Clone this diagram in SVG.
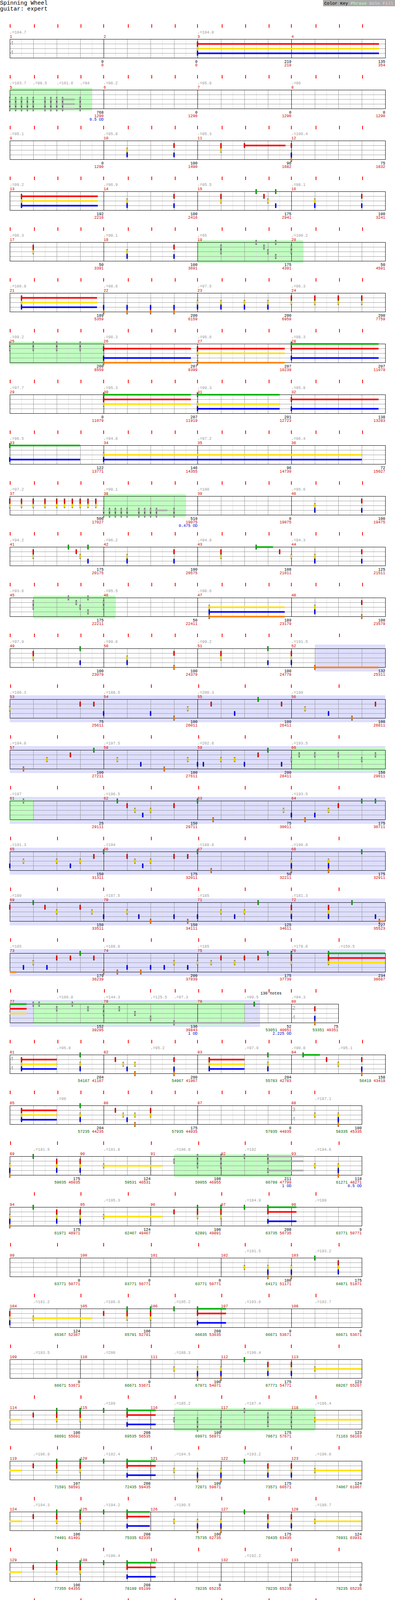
<svg xmlns="http://www.w3.org/2000/svg" xmlns:xlink="http://www.w3.org/1999/xlink" width="1010" height="4665" viewBox="0 0 1010 4665">
<style>
text{font-family:"Liberation Mono","DejaVu Sans Mono",monospace;font-size:10px}
.tp{fill:#999}.mn{fill:#c00}.s{text-anchor:end}.r{fill:#c00}.gn{fill:#060}.od{fill:#00c}
.big{font-size:14px;fill:#999}
.l8{stroke:#ddd;fill:none}.lg{stroke:#999;fill:none}.lk{stroke:#000;fill:none}
.tk{stroke:#f00;stroke-width:2;fill:none}
.ph{fill:#c0ffc0}.so{fill:#dedeff}
.uG{fill:#00b000}.uR{fill:#f00}.uY{fill:#ffe000}.uB{fill:#00f}.uO{fill:#ff8000}.uS{fill:#aaa}
</style>
<defs>
<g id="g44"><path class="l8" d="M55.5 0v48m60-48v48m60-48v48m60-48v48m60-48v48m60-48v48m60-48v48m60-48v48m60-48v48m60-48v48m60-48v48m60-48v48m60-48v48m60-48v48m60-48v48m60-48v48"/><path class="lg" d="M25 12.5h960M25 24.5h960M25 36.5h960M85.5 0v48m60-48v48m60-48v48m120-48v48m60-48v48m60-48v48m120-48v48m60-48v48m60-48v48m120-48v48m60-48v48m60-48v48"/><path class="lk" d="M265.5 0v48m240-48v48m240-48v48"/><rect class="lk" x="25.5" y="0.5" width="960" height="48"/></g>
<g id="g35"><path class="l8" d="M55.5 0v48m60-48v48m60-48v48m60-48v48m60-48v48m60-48v48m60-48v48m60-48v48m60-48v48m60-48v48m60-48v48m60-48v48m60-48v48m60-48v48m60-48v48"/><path class="lg" d="M25 12.5h900M25 24.5h900M25 36.5h900M85.5 0v48m60-48v48m120-48v48m60-48v48m120-48v48m60-48v48m120-48v48m60-48v48m120-48v48m60-48v48"/><path class="lk" d="M205.5 0v48m180-48v48m180-48v48m180-48v48"/><rect class="lk" x="25.5" y="0.5" width="900" height="48"/></g>
<g id="g19"><path class="l8" d="M55.5 0v48m60-48v48m60-48v48m60-48v48m60-48v48m60-48v48m60-48v48m60-48v48m60-48v48m60-48v48m60-48v48m60-48v48m60-48v48m60-48v48"/><path class="lg" d="M25 12.5h840M25 24.5h840M25 36.5h840M85.5 0v48m60-48v48m60-48v48m120-48v48m60-48v48m60-48v48m120-48v48m60-48v48m60-48v48m120-48v48"/><path class="lk" d="M265.5 0v48m240-48v48m240-48v48"/><rect class="lk" x="25.5" y="0.5" width="840" height="48"/></g>
<g id="g21"><path class="l8" d="M55.5 0v48m60-48v48m60-48v48m60-48v48m60-48v48m60-48v48m60-48v48m60-48v48m60-48v48m60-48v48m60-48v48m60-48v48m60-48v48m60-48v48m60-48v48"/><path class="lg" d="M25 12.5h900M25 24.5h900M25 36.5h900M85.5 0v48m60-48v48m60-48v48m120-48v48m60-48v48m60-48v48m120-48v48m60-48v48m60-48v48m120-48v48m60-48v48"/><path class="lk" d="M265.5 0v48m240-48v48m240-48v48"/><rect class="lk" x="25.5" y="0.5" width="900" height="48"/></g>
<g id="g34"><path class="l8" d="M55.5 0v48m60-48v48m60-48v48m60-48v48m60-48v48m60-48v48m60-48v48m60-48v48m60-48v48m60-48v48m60-48v48m60-48v48"/><path class="lg" d="M25 12.5h720M25 24.5h720M25 36.5h720M85.5 0v48m60-48v48m120-48v48m60-48v48m120-48v48m60-48v48m120-48v48m60-48v48"/><path class="lk" d="M205.5 0v48m180-48v48m180-48v48"/><rect class="lk" x="25.5" y="0.5" width="720" height="48"/></g>
<path id="S16" class="tk" d="M26-38v9M88-38v9M148-38v9M207-38v9M265-38v9M328-38v9M388-38v9M448-38v9M505-38v9M568-38v9M628-38v9M688-38v9M745-38v9M808-38v9M868-38v9M927-38v9"/>
<path id="F8" class="tk" d="M27-38v9M147-38v9M265-38v9M387-38v9M508-38v9M627-38v9M745-38v9M867-38v9"/>
<path id="F7" class="tk" d="M88-38v9M207-38v9M328-38v9M448-38v9M567-38v9M688-38v9M808-38v9"/>
<g id="G"><rect x="-1.5" y="-5.5" width="3" height="12"/><rect x="-1.5" y="-4.5" width="3" height="10" fill="#00b000"/></g>
<g id="R"><rect x="-1.5" y="6.5" width="3" height="12"/><rect x="-1.5" y="7.5" width="3" height="10" fill="#f00"/></g>
<g id="Y"><rect x="-1.5" y="18.5" width="3" height="12"/><rect x="-1.5" y="19.5" width="3" height="10" fill="#ffe000"/></g>
<g id="B"><rect x="-1.5" y="30.5" width="3" height="12"/><rect x="-1.5" y="31.5" width="3" height="10" fill="#00f"/></g>
<g id="O"><rect x="-1.5" y="42.5" width="3" height="12"/><rect x="-1.5" y="43.5" width="3" height="10" fill="#ff8000"/></g>
<g id="sG"><rect x="-1.5" y="-5.5" width="3" height="12"/><rect x="-1.5" y="-4.5" width="3" height="10" fill="#aaa"/></g>
<g id="sR"><rect x="-1.5" y="6.5" width="3" height="12"/><rect x="-1.5" y="7.5" width="3" height="10" fill="#aaa"/></g>
<g id="sY"><rect x="-1.5" y="18.5" width="3" height="12"/><rect x="-1.5" y="19.5" width="3" height="10" fill="#aaa"/></g>
<g id="sB"><rect x="-1.5" y="30.5" width="3" height="12"/><rect x="-1.5" y="31.5" width="3" height="10" fill="#aaa"/></g>
<g id="sO"><rect x="-1.5" y="42.5" width="3" height="12"/><rect x="-1.5" y="43.5" width="3" height="10" fill="#aaa"/></g>
<g id="RYB"><use href="#R"/><use href="#Y"/><use href="#B"/></g>
<g id="GRY"><use href="#G"/><use href="#R"/><use href="#Y"/></g>
<g id="GRB"><use href="#G"/><use href="#R"/><use href="#B"/></g>
<g id="YBO"><use href="#Y"/><use href="#B"/><use href="#O"/></g>
<g id="GYB"><use href="#G"/><use href="#Y"/><use href="#B"/></g>
<g id="RBO"><use href="#R"/><use href="#B"/><use href="#O"/></g>
<g id="RYO"><use href="#R"/><use href="#Y"/><use href="#O"/></g>
<g id="RB"><use href="#R"/><use href="#B"/></g>
<g id="YB"><use href="#Y"/><use href="#B"/></g>
<g id="RY"><use href="#R"/><use href="#Y"/></g>
<g id="GB"><use href="#G"/><use href="#B"/></g>
<g id="BO"><use href="#B"/><use href="#O"/></g>
<g id="RO"><use href="#R"/><use href="#O"/></g>
<g id="YO"><use href="#Y"/><use href="#O"/></g>
<g id="sYBO"><use href="#sY"/><use href="#sB"/><use href="#sO"/></g>
<g id="sGR"><use href="#sG"/><use href="#sR"/></g>
<g id="sRY"><use href="#sR"/><use href="#sY"/></g>
<g id="sGB"><use href="#sG"/><use href="#sB"/></g>
<g id="sBO"><use href="#sB"/><use href="#sO"/></g>
<g id="sGRY"><use href="#sG"/><use href="#sR"/><use href="#sY"/></g>
<g id="sGRB"><use href="#sG"/><use href="#sR"/><use href="#sB"/></g>
<g id="sRYB"><use href="#sR"/><use href="#sY"/><use href="#sB"/></g>
</defs>
<rect width="1010" height="4665" fill="#fff"/>
<g id="header">
<text x="0" y="12" style="font-size:14.5px">Spinning Wheel</text>
<text x="0" y="27" style="font-size:14.5px">guitar: expert</text>
<rect x="826" y="0" width="184" height="16" fill="#aaa"/>
<text x="829" y="12" style="font-size:11.3px">Color Key <tspan fill="#c0ffc0">Phrase</tspan> <tspan fill="#ddf">Solo</tspan> <tspan fill="#fcc">Fill</tspan></text>
</g>
<g id="row-1" transform="translate(0,100)">
<use href="#g44"/><use href="#S16"/>
<text class="tp" x="25" y="-14">♩=104.7</text><text class="tp" x="505" y="-14">♩=104.8</text>
<text class="mn" x="25" y="-3">1</text><text class="mn" x="265" y="-3">2</text><text class="mn" x="505" y="-3">3</text><text class="mn" x="745" y="-3">4</text>
<text class="big" x="26" y="15">4</text><text class="big" x="26" y="39">4</text>
<rect class="uR" x="505" y="10.5" width="464" height="4"/><rect class="uY" x="505" y="22.5" width="464" height="4"/><rect class="uB" x="505" y="34.5" width="464" height="4"/>
<use href="#RYB" x="505"/>
<text class="s" x="265" y="61">0<tspan class="r" x="265" dy="9">0</tspan></text>
<text class="s" x="505" y="61">0<tspan class="r" x="505" dy="9">0</tspan></text>
<text class="s" x="745" y="61">219<tspan class="r" x="745" dy="9">219</tspan></text>
<text class="s" x="985" y="61">135<tspan class="r" x="985" dy="9">354</tspan></text>
</g>
<g id="row-5" transform="translate(0,230)">
<rect class="ph" x="25" y="-5" width="211" height="58"/>
<use href="#g44"/><use href="#S16"/>
<text class="tp" x="25" y="-14">♩=103.7</text><text class="tp" x="84" y="-14">♩=98.5</text><text class="tp" x="145" y="-14">♩=101.8</text><text class="tp" x="205" y="-14">♩=94</text><text class="tp" x="265" y="-14">♩=96.2</text><text class="tp" x="505" y="-14">♩=95.8</text><text class="tp" x="745" y="-14">♩=96</text>
<text class="mn" x="25" y="-3">5</text><text class="mn" x="265" y="-3">6</text><text class="mn" x="505" y="-3">7</text><text class="mn" x="745" y="-3">8</text>
<rect class="uS" x="160" y="22.5" width="31" height="4"/><rect class="uS" x="160" y="34.5" width="31" height="4"/><rect class="uS" x="160" y="46.5" width="31" height="4"/>
<use href="#sYBO" x="25"/><use href="#sYBO" x="40"/><use href="#sYBO" x="55"/><use href="#sYBO" x="70"/><use href="#sYBO" x="85"/><use href="#sYBO" x="115"/><use href="#sYBO" x="130"/><use href="#sYBO" x="145"/><use href="#sYBO" x="160"/><use href="#sYBO" x="205"/>
<text class="s" x="265" y="61">768<tspan class="r" x="265" dy="9">1290</tspan><tspan class="od" x="265" dy="9">0.5 OD</tspan></text>
<text class="s" x="505" y="61">0<tspan class="r" x="505" dy="9">1290</tspan></text>
<text class="s" x="745" y="61">0<tspan class="r" x="745" dy="9">1290</tspan></text>
<text class="s" x="985" y="61">0<tspan class="r" x="985" dy="9">1290</tspan></text>
</g>
<g id="row-9" transform="translate(0,360)">
<use href="#g44"/><use href="#S16"/>
<text class="tp" x="25" y="-14">♩=95.1</text><text class="tp" x="265" y="-14">♩=95.8</text><text class="tp" x="505" y="-14">♩=95.3</text><text class="tp" x="745" y="-14">♩=100.4</text>
<text class="mn" x="25" y="-3">9</text><text class="mn" x="265" y="-3">10</text><text class="mn" x="505" y="-3">11</text><text class="mn" x="745" y="-3">12</text>
<rect class="uR" x="625" y="10.5" width="105" height="4"/>
<use href="#YB" x="325"/><use href="#RB" x="445"/><use href="#RY" x="565"/><use href="#R" x="625"/><use href="#RBO" x="745"/>
<text class="s" x="265" y="61">0<tspan class="r" x="265" dy="9">1290</tspan></text>
<text class="s" x="505" y="61">100<tspan class="r" x="505" dy="9">1490</tspan></text>
<text class="s" x="745" y="61">96<tspan class="r" x="745" dy="9">1682</tspan></text>
<text class="s" x="985" y="61">75<tspan class="r" x="985" dy="9">1832</tspan></text>
</g>
<g id="row-13" transform="translate(0,490)">
<use href="#g44"/><use href="#S16"/>
<text class="tp" x="25" y="-14">♩=99.2</text><text class="tp" x="265" y="-14">♩=96.9</text><text class="tp" x="505" y="-14">♩=95.5</text><text class="tp" x="745" y="-14">♩=98.1</text>
<text class="mn" x="25" y="-3">13</text><text class="mn" x="265" y="-3">14</text><text class="mn" x="505" y="-3">15</text><text class="mn" x="745" y="-3">16</text>
<rect class="uR" x="55" y="10.5" width="195" height="4"/><rect class="uY" x="55" y="22.5" width="195" height="4"/><rect class="uB" x="55" y="34.5" width="195" height="4"/>
<use href="#RYB" x="55"/><use href="#YB" x="325"/><use href="#RB" x="445"/><use href="#RY" x="565"/><use href="#G" x="655"/><use href="#R" x="675"/><use href="#Y" x="685"/><use href="#GB" x="705"/><use href="#YB" x="805"/><use href="#RB" x="925"/>
<text class="s" x="265" y="61">192<tspan class="r" x="265" dy="9">2216</tspan></text>
<text class="s" x="505" y="61">100<tspan class="r" x="505" dy="9">2416</tspan></text>
<text class="s" x="745" y="61">175<tspan class="r" x="745" dy="9">2941</tspan></text>
<text class="s" x="985" y="61">100<tspan class="r" x="985" dy="9">3241</tspan></text>
</g>
<g id="row-17" transform="translate(0,620)">
<rect class="ph" x="505" y="-5" width="270" height="58"/>
<use href="#g44"/><use href="#S16"/>
<text class="tp" x="25" y="-14">♩=96.3</text><text class="tp" x="265" y="-14">♩=98.1</text><text class="tp" x="505" y="-14">♩=95</text><text class="tp" x="745" y="-14">♩=100.2</text>
<text class="mn" x="25" y="-3">17</text><text class="mn" x="265" y="-3">18</text><text class="mn" x="505" y="-3">19</text><text class="mn" x="745" y="-3">20</text>
<use href="#RY" x="85"/><use href="#YB" x="325"/><use href="#RB" x="445"/><use href="#sRY" x="565"/><use href="#sG" x="655"/><use href="#sR" x="675"/><use href="#sY" x="685"/><use href="#sGB" x="705"/><use href="#sRY" x="745"/>
<text class="s" x="265" y="61">50<tspan class="r" x="265" dy="9">3391</tspan></text>
<text class="s" x="505" y="61">100<tspan class="r" x="505" dy="9">3691</tspan></text>
<text class="s" x="745" y="61">175<tspan class="r" x="745" dy="9">4391</tspan></text>
<text class="s" x="985" y="61">50<tspan class="r" x="985" dy="9">4591</tspan></text>
</g>
<g id="row-21" transform="translate(0,750)">
<use href="#g44"/><use href="#S16"/>
<text class="tp" x="25" y="-14">♩=100.8</text><text class="tp" x="265" y="-14">♩=98.6</text><text class="tp" x="505" y="-14">♩=97.5</text><text class="tp" x="745" y="-14">♩=96.3</text>
<text class="mn" x="25" y="-3">21</text><text class="mn" x="265" y="-3">22</text><text class="mn" x="505" y="-3">23</text><text class="mn" x="745" y="-3">24</text>
<rect class="uR" x="55" y="10.5" width="193" height="4"/><rect class="uY" x="55" y="22.5" width="193" height="4"/><rect class="uB" x="55" y="34.5" width="193" height="4"/>
<use href="#RYB" x="55"/><use href="#BO" x="265"/><use href="#BO" x="325"/><use href="#BO" x="385"/><use href="#BO" x="445"/><use href="#YB" x="505"/><use href="#YB" x="565"/><use href="#YB" x="625"/><use href="#YB" x="685"/><use href="#RY" x="745"/><use href="#RY" x="805"/><use href="#RY" x="865"/><use href="#RY" x="925"/>
<text class="s" x="265" y="61">189<tspan class="r" x="265" dy="9">5359</tspan></text>
<text class="s" x="505" y="61">200<tspan class="r" x="505" dy="9">6159</tspan></text>
<text class="s" x="745" y="61">200<tspan class="r" x="745" dy="9">6959</tspan></text>
<text class="s" x="985" y="61">200<tspan class="r" x="985" dy="9">7759</tspan></text>
</g>
<g id="row-25" transform="translate(0,880)">
<rect class="ph" x="25" y="-5" width="240" height="58"/>
<use href="#g44"/><use href="#S16"/>
<text class="tp" x="25" y="-14">♩=99.2</text><text class="tp" x="265" y="-14">♩=98.3</text><text class="tp" x="505" y="-14">♩=98.6</text><text class="tp" x="745" y="-14">♩=98.3</text>
<text class="mn" x="25" y="-3">25</text><text class="mn" x="265" y="-3">26</text><text class="mn" x="505" y="-3">27</text><text class="mn" x="745" y="-3">28</text>
<use href="#sGR" x="25"/><use href="#sGR" x="85"/><use href="#sGR" x="145"/><use href="#sGR" x="205"/>
<rect class="uR" x="265" y="10.5" width="223" height="4"/><rect class="uB" x="265" y="34.5" width="223" height="4"/><rect class="uO" x="265" y="46.5" width="223" height="4"/>
<rect class="uR" x="505" y="10.5" width="223" height="4"/><rect class="uY" x="505" y="22.5" width="223" height="4"/><rect class="uO" x="505" y="46.5" width="223" height="4"/>
<rect class="uG" x="745" y="-1.5" width="223" height="4"/><rect class="uR" x="745" y="10.5" width="223" height="4"/><rect class="uB" x="745" y="34.5" width="223" height="4"/>
<use href="#RBO" x="265"/><use href="#RYO" x="505"/><use href="#GRB" x="745"/>
<text class="s" x="265" y="61">200<tspan class="r" x="265" dy="9">8559</tspan></text>
<text class="s" x="505" y="61">207<tspan class="r" x="505" dy="9">9399</tspan></text>
<text class="s" x="745" y="61">207<tspan class="r" x="745" dy="9">10239</tspan></text>
<text class="s" x="985" y="61">207<tspan class="r" x="985" dy="9">11079</tspan></text>
</g>
<g id="row-29" transform="translate(0,1010)">
<use href="#g44"/><use href="#S16"/>
<text class="tp" x="25" y="-14">♩=97.7</text><text class="tp" x="265" y="-14">♩=95.3</text><text class="tp" x="505" y="-14">♩=99.3</text><text class="tp" x="745" y="-14">♩=95.8</text>
<text class="mn" x="25" y="-3">29</text><text class="mn" x="265" y="-3">30</text><text class="mn" x="505" y="-3">31</text><text class="mn" x="745" y="-3">32</text>
<rect class="uG" x="265" y="-1.5" width="223" height="4"/><rect class="uR" x="265" y="10.5" width="223" height="4"/><rect class="uY" x="265" y="22.5" width="223" height="4"/>
<rect class="uG" x="505" y="-1.5" width="210" height="4"/><rect class="uY" x="505" y="22.5" width="210" height="4"/><rect class="uB" x="505" y="34.5" width="210" height="4"/>
<rect class="uR" x="745" y="10.5" width="223" height="4"/><rect class="uB" x="745" y="34.5" width="223" height="4"/>
<use href="#GRY" x="265"/><use href="#GYB" x="505"/><use href="#RB" x="745"/>
<text class="s" x="265" y="61">0<tspan class="r" x="265" dy="9">11079</tspan></text>
<text class="s" x="505" y="61">207<tspan class="r" x="505" dy="9">11919</tspan></text>
<text class="s" x="745" y="61">201<tspan class="r" x="745" dy="9">12723</tspan></text>
<text class="s" x="985" y="61">138<tspan class="r" x="985" dy="9">13283</tspan></text>
</g>
<g id="row-33" transform="translate(0,1140)">
<use href="#g44"/><use href="#S16"/>
<text class="tp" x="25" y="-14">♩=96.5</text><text class="tp" x="265" y="-14">♩=94.8</text><text class="tp" x="505" y="-14">♩=97.2</text><text class="tp" x="745" y="-14">♩=96.4</text>
<text class="mn" x="25" y="-3">33</text><text class="mn" x="265" y="-3">34</text><text class="mn" x="505" y="-3">35</text><text class="mn" x="745" y="-3">36</text>
<rect class="uG" x="25" y="-1.5" width="180" height="4"/><rect class="uB" x="25" y="34.5" width="180" height="4"/>
<rect class="uY" x="265" y="22.5" width="660" height="4"/><rect class="uB" x="265" y="34.5" width="660" height="4"/>
<use href="#GB" x="25"/><use href="#YB" x="265"/>
<text class="s" x="265" y="61">122<tspan class="r" x="265" dy="9">13771</tspan></text>
<text class="s" x="505" y="61">146<tspan class="r" x="505" dy="9">14355</tspan></text>
<text class="s" x="745" y="61">96<tspan class="r" x="745" dy="9">14739</tspan></text>
<text class="s" x="985" y="61">72<tspan class="r" x="985" dy="9">15027</tspan></text>
</g>
<g id="row-37" transform="translate(0,1270)">
<rect class="ph" x="265" y="-5" width="210" height="58"/>
<use href="#g44"/><use href="#S16"/>
<text class="tp" x="25" y="-14">♩=97.2</text><text class="tp" x="265" y="-14">♩=98.1</text><text class="tp" x="505" y="-14">♩=100</text><text class="tp" x="745" y="-14">♩=95.6</text>
<text class="mn" x="25" y="-3">37</text><text class="mn" x="265" y="-3">38</text><text class="mn" x="505" y="-3">39</text><text class="mn" x="745" y="-3">40</text>
<use href="#RY" x="25"/><use href="#RY" x="55"/><use href="#RY" x="85"/><use href="#RY" x="115"/><use href="#RY" x="145"/><use href="#RY" x="165"/><use href="#RY" x="185"/><use href="#RY" x="205"/><use href="#RY" x="225"/><use href="#RY" x="245"/>
<rect class="uS" x="400" y="34.5" width="28" height="4"/><rect class="uS" x="400" y="46.5" width="28" height="4"/>
<use href="#sBO" x="265"/><use href="#sBO" x="280"/><use href="#sBO" x="295"/><use href="#sBO" x="310"/><use href="#sBO" x="325"/><use href="#sBO" x="355"/><use href="#sBO" x="370"/><use href="#sBO" x="385"/><use href="#sBO" x="400"/><use href="#sBO" x="445"/>
<use href="#YB" x="805"/><use href="#RB" x="925"/>
<text class="s" x="265" y="61">500<tspan class="r" x="265" dy="9">17027</tspan></text>
<text class="s" x="505" y="61">510<tspan class="r" x="505" dy="9">19075</tspan><tspan class="od" x="505" dy="9">0.475 OD</tspan></text>
<text class="s" x="745" y="61">0<tspan class="r" x="745" dy="9">19075</tspan></text>
<text class="s" x="985" y="61">100<tspan class="r" x="985" dy="9">19475</tspan></text>
</g>
<g id="row-41" transform="translate(0,1400)">
<use href="#g44"/><use href="#S16"/>
<text class="tp" x="25" y="-14">♩=94.2</text><text class="tp" x="265" y="-14">♩=96.2</text><text class="tp" x="505" y="-14">♩=94.9</text><text class="tp" x="745" y="-14">♩=94.3</text>
<text class="mn" x="25" y="-3">41</text><text class="mn" x="265" y="-3">42</text><text class="mn" x="505" y="-3">43</text><text class="mn" x="745" y="-3">44</text>
<rect class="uG" x="655" y="-1.5" width="43" height="4"/>
<use href="#RY" x="85"/><use href="#G" x="175"/><use href="#R" x="195"/><use href="#Y" x="205"/><use href="#GB" x="225"/><use href="#YB" x="325"/><use href="#RB" x="445"/><use href="#RY" x="565"/><use href="#G" x="655"/><use href="#R" x="715"/><use href="#Y" x="745"/><use href="#YB" x="805"/><use href="#RB" x="925"/>
<text class="s" x="265" y="61">175<tspan class="r" x="265" dy="9">20175</tspan></text>
<text class="s" x="505" y="61">100<tspan class="r" x="505" dy="9">20575</tspan></text>
<text class="s" x="745" y="61">108<tspan class="r" x="745" dy="9">21011</tspan></text>
<text class="s" x="985" y="61">125<tspan class="r" x="985" dy="9">21511</tspan></text>
</g>
<g id="row-45" transform="translate(0,1530)">
<rect class="ph" x="85" y="-5" width="210" height="58"/>
<use href="#g44"/><use href="#S16"/>
<text class="tp" x="25" y="-14">♩=93.6</text><text class="tp" x="265" y="-14">♩=95.5</text><text class="tp" x="505" y="-14">♩=98.6</text>
<text class="mn" x="25" y="-3">45</text><text class="mn" x="265" y="-3">46</text><text class="mn" x="505" y="-3">47</text><text class="mn" x="745" y="-3">48</text>
<use href="#sRY" x="85"/><use href="#sG" x="175"/><use href="#sR" x="195"/><use href="#sY" x="205"/><use href="#sGB" x="225"/><use href="#sRY" x="265"/>
<rect class="uY" x="535" y="22.5" width="193" height="4"/><rect class="uB" x="535" y="34.5" width="193" height="4"/><rect class="uO" x="535" y="46.5" width="193" height="4"/>
<use href="#YBO" x="535"/><use href="#YB" x="805"/><use href="#RO" x="925"/>
<text class="s" x="265" y="61">175<tspan class="r" x="265" dy="9">22211</tspan></text>
<text class="s" x="505" y="61">50<tspan class="r" x="505" dy="9">22411</tspan></text>
<text class="s" x="745" y="61">189<tspan class="r" x="745" dy="9">23179</tspan></text>
<text class="s" x="985" y="61">100<tspan class="r" x="985" dy="9">23579</tspan></text>
</g>
<g id="row-49" transform="translate(0,1660)">
<rect class="so" x="805" y="-10" width="180" height="69"/>
<use href="#g44"/>
<path class="tk" d="M26-38v9M88-38v9M148-38v9M207-38v9M265-38v9M328-38v9M388-38v9M448-38v9M505-38v9M568-38v9M628-38v9M688-38v9M745-38v9M868-38v9"/>
<text class="tp" x="25" y="-14">♩=97.9</text><text class="tp" x="265" y="-14">♩=99.6</text><text class="tp" x="505" y="-14">♩=99.2</text><text class="tp" x="745" y="-14">♩=191.5</text>
<text class="mn" x="25" y="-3">49</text><text class="mn" x="265" y="-3">50</text><text class="mn" x="505" y="-3">51</text><text class="mn" x="745" y="-3">52</text>
<rect class="uO" x="805" y="46.5" width="163" height="4"/>
<use href="#RY" x="85"/><use href="#GB" x="205"/><use href="#YB" x="325"/><use href="#RO" x="445"/><use href="#RY" x="565"/><use href="#GB" x="685"/><use href="#RYB" x="745"/><use href="#O" x="805"/>
<text class="s" x="265" y="61">100<tspan class="r" x="265" dy="9">23979</tspan></text>
<text class="s" x="505" y="61">100<tspan class="r" x="505" dy="9">24379</tspan></text>
<text class="s" x="745" y="61">100<tspan class="r" x="745" dy="9">24779</tspan></text>
<text class="s" x="985" y="61">132<tspan class="r" x="985" dy="9">25311</tspan></text>
</g>
<g id="row-53" transform="translate(0,1790)">
<rect class="so" x="25" y="-10" width="960" height="69"/>
<use href="#g44"/><use href="#F8"/>
<text class="tp" x="25" y="-14">♩=196.3</text><text class="tp" x="265" y="-14">♩=188.5</text><text class="tp" x="505" y="-14">♩=200.3</text><text class="tp" x="745" y="-14">♩=199</text>
<text class="mn" x="25" y="-3">53</text><text class="mn" x="265" y="-3">54</text><text class="mn" x="505" y="-3">55</text><text class="mn" x="745" y="-3">56</text>
<use href="#Y" x="25"/><use href="#R" x="205"/><use href="#R" x="240"/><use href="#B" x="265"/><use href="#B" x="385"/><use href="#O" x="445"/><use href="#Y" x="480"/><use href="#R" x="540"/><use href="#B" x="600"/><use href="#G" x="660"/><use href="#R" x="720"/><use href="#Y" x="780"/><use href="#B" x="840"/><use href="#O" x="900"/><use href="#R" x="960"/>
<text class="s" x="265" y="61">75<tspan class="r" x="265" dy="9">25611</tspan></text>
<text class="s" x="505" y="61">100<tspan class="r" x="505" dy="9">26011</tspan></text>
<text class="s" x="745" y="61">100<tspan class="r" x="745" dy="9">26411</tspan></text>
<text class="s" x="985" y="61">100<tspan class="r" x="985" dy="9">26811</tspan></text>
</g>
<g id="row-57" transform="translate(0,1920)">
<rect class="so" x="25" y="-10" width="960" height="69"/>
<rect class="ph" x="745" y="-5" width="240" height="58"/>
<use href="#g44"/><use href="#F8"/>
<text class="tp" x="25" y="-14">♩=194.8</text><text class="tp" x="265" y="-14">♩=197.5</text><text class="tp" x="505" y="-14">♩=202.8</text><text class="tp" x="745" y="-14">♩=193.5</text>
<text class="mn" x="25" y="-3">57</text><text class="mn" x="265" y="-3">58</text><text class="mn" x="505" y="-3">59</text><text class="mn" x="745" y="-3">60</text>
<use href="#O" x="60"/><use href="#Y" x="120"/><use href="#R" x="180"/><use href="#G" x="240"/><use href="#Y" x="300"/><use href="#B" x="360"/><use href="#O" x="420"/><use href="#Y" x="480"/><use href="#B" x="505"/><use href="#B" x="520"/><use href="#Y" x="565"/><use href="#Y" x="600"/><use href="#B" x="625"/><use href="#R" x="660"/><use href="#G" x="685"/><use href="#B" x="720"/>
<use href="#sY" x="745"/><use href="#sR" x="765"/><use href="#sR" x="805"/><use href="#sR" x="865"/><use href="#sY" x="925"/><use href="#sR" x="960"/>
<text class="s" x="265" y="61">100<tspan class="r" x="265" dy="9">27211</tspan></text>
<text class="s" x="505" y="61">100<tspan class="r" x="505" dy="9">27611</tspan></text>
<text class="s" x="745" y="61">200<tspan class="r" x="745" dy="9">28411</tspan></text>
<text class="s" x="985" y="61">150<tspan class="r" x="985" dy="9">29011</tspan></text>
</g>
<g id="row-61" transform="translate(0,2050)">
<rect class="so" x="25" y="-10" width="960" height="69"/>
<rect class="ph" x="25" y="-5" width="60" height="58"/>
<use href="#g44"/><use href="#F8"/>
<text class="tp" x="25" y="-14">♩=197</text><text class="tp" x="265" y="-14">♩=196.5</text><text class="tp" x="745" y="-14">♩=193.5</text>
<text class="mn" x="25" y="-3">61</text><text class="mn" x="265" y="-3">62</text><text class="mn" x="505" y="-3">63</text><text class="mn" x="745" y="-3">64</text>
<use href="#sG" x="60"/><use href="#G" x="300"/><use href="#R" x="325"/><use href="#Y" x="345"/><use href="#B" x="365"/><use href="#Y" x="385"/><use href="#R" x="445"/><use href="#G" x="505"/><use href="#O" x="545"/><use href="#Y" x="725"/><use href="#B" x="745"/><use href="#O" x="780"/><use href="#B" x="805"/><use href="#Y" x="840"/><use href="#R" x="865"/><use href="#G" x="925"/><use href="#G" x="960"/>
<text class="s" x="265" y="61">25<tspan class="r" x="265" dy="9">29111</tspan></text>
<text class="s" x="505" y="61">150<tspan class="r" x="505" dy="9">29711</tspan></text>
<text class="s" x="745" y="61">75<tspan class="r" x="745" dy="9">30011</tspan></text>
<text class="s" x="985" y="61">175<tspan class="r" x="985" dy="9">30711</tspan></text>
</g>
<g id="row-65" transform="translate(0,2180)">
<rect class="so" x="25" y="-10" width="960" height="69"/>
<use href="#g44"/><use href="#F8"/>
<text class="tp" x="25" y="-14">♩=191.3</text><text class="tp" x="265" y="-14">♩=194</text><text class="tp" x="505" y="-14">♩=188.8</text><text class="tp" x="745" y="-14">♩=190.8</text>
<text class="mn" x="25" y="-3">65</text><text class="mn" x="265" y="-3">66</text><text class="mn" x="505" y="-3">67</text><text class="mn" x="745" y="-3">68</text>
<use href="#B" x="25"/><use href="#Y" x="60"/><use href="#Y" x="145"/><use href="#B" x="180"/><use href="#Y" x="205"/><use href="#R" x="240"/><use href="#G" x="265"/><use href="#R" x="325"/><use href="#Y" x="345"/><use href="#B" x="365"/><use href="#Y" x="385"/><use href="#R" x="445"/><use href="#R" x="480"/><use href="#G" x="505"/><use href="#O" x="540"/><use href="#YBO" x="745"/><use href="#YBO" x="840"/><use href="#G" x="925"/>
<text class="s" x="265" y="61">150<tspan class="r" x="265" dy="9">31311</tspan></text>
<text class="s" x="505" y="61">175<tspan class="r" x="505" dy="9">32011</tspan></text>
<text class="s" x="745" y="61">50<tspan class="r" x="745" dy="9">32211</tspan></text>
<text class="s" x="985" y="61">175<tspan class="r" x="985" dy="9">32911</tspan></text>
</g>
<g id="row-69" transform="translate(0,2310)">
<rect class="so" x="25" y="-10" width="960" height="69"/>
<use href="#g44"/><use href="#F8"/>
<text class="tp" x="25" y="-14">♩=189</text><text class="tp" x="265" y="-14">♩=187.5</text><text class="tp" x="505" y="-14">♩=185</text><text class="tp" x="745" y="-14">♩=181.3</text>
<text class="mn" x="25" y="-3">69</text><text class="mn" x="265" y="-3">70</text><text class="mn" x="505" y="-3">71</text><text class="mn" x="745" y="-3">72</text>
<rect class="uO" x="970" y="46.5" width="15" height="4"/>
<use href="#R" x="25"/><use href="#G" x="85"/><use href="#R" x="115"/><use href="#Y" x="145"/><use href="#R" x="205"/><use href="#Y" x="235"/><use href="#B" x="265"/><use href="#Y" x="325"/><use href="#B" x="355"/><use href="#O" x="385"/><use href="#B" x="445"/><use href="#O" x="480"/><use href="#B" x="505"/><use href="#Y" x="565"/><use href="#B" x="600"/><use href="#Y" x="625"/><use href="#G" x="660"/><use href="#RYB" x="745"/><use href="#RYB" x="840"/><use href="#G" x="900"/><use href="#B" x="960"/><use href="#O" x="970"/>
<text class="s" x="265" y="61">150<tspan class="r" x="265" dy="9">33511</tspan></text>
<text class="s" x="505" y="61">150<tspan class="r" x="505" dy="9">34111</tspan></text>
<text class="s" x="745" y="61">125<tspan class="r" x="745" dy="9">34611</tspan></text>
<text class="s" x="985" y="61">227<tspan class="r" x="985" dy="9">35523</tspan></text>
</g>
<g id="row-73" transform="translate(0,2440)">
<rect class="so" x="25" y="-10" width="960" height="69"/>
<use href="#g44"/><use href="#F8"/>
<text class="tp" x="25" y="-14">♩=185</text><text class="tp" x="265" y="-14">♩=188.8</text><text class="tp" x="505" y="-14">♩=185</text><text class="tp" x="745" y="-14">♩=178.8</text><text class="tp" x="865" y="-14">♩=159.5</text>
<text class="mn" x="25" y="-3">73</text><text class="mn" x="265" y="-3">74</text><text class="mn" x="505" y="-3">75</text><text class="mn" x="745" y="-3">76</text>
<rect class="uO" x="25" y="46.5" width="17" height="4"/>
<rect class="uG" x="840" y="-1.5" width="145" height="4"/><rect class="uR" x="840" y="10.5" width="145" height="4"/><rect class="uY" x="840" y="22.5" width="145" height="4"/>
<use href="#B" x="60"/><use href="#Y" x="85"/><use href="#B" x="120"/><use href="#R" x="145"/><use href="#R" x="180"/><use href="#G" x="205"/><use href="#R" x="240"/><use href="#O" x="265"/><use href="#O" x="300"/><use href="#B" x="325"/><use href="#O" x="360"/><use href="#B" x="385"/><use href="#B" x="420"/><use href="#Y" x="445"/><use href="#B" x="480"/><use href="#Y" x="505"/><use href="#Y" x="540"/><use href="#R" x="565"/><use href="#Y" x="600"/><use href="#R" x="625"/><use href="#R" x="660"/><use href="#G" x="685"/><use href="#GRY" x="745"/><use href="#GRY" x="840"/>
<text class="s" x="265" y="61">179<tspan class="r" x="265" dy="9">36239</tspan></text>
<text class="s" x="505" y="61">200<tspan class="r" x="505" dy="9">37039</tspan></text>
<text class="s" x="745" y="61">175<tspan class="r" x="745" dy="9">37739</tspan></text>
<text class="s" x="985" y="61">234<tspan class="r" x="985" dy="9">38687</tspan></text>
</g>
<g id="row-77" transform="translate(0,2570)">
<rect class="so" x="25" y="-10" width="640" height="69"/>
<rect class="ph" x="85" y="-5" width="540" height="58"/>
<use href="#g19"/>
<path class="tk" d="M27-38v9M147-38v9M267-38v9M385-38v9M448-38v9M508-38v9M568-38v9M627-38v9M688-38v9M745-38v9M808-38v9"/>
<text x="666" y="-24">130 notes</text>
<text class="tp" x="145" y="-14">♩=160.8</text><text class="tp" x="265" y="-14">♩=144.3</text><text class="tp" x="385" y="-14">♩=125.5</text><text class="tp" x="445" y="-14">♩=97.3</text><text class="tp" x="625" y="-14">♩=99.5</text><text class="tp" x="745" y="-14">♩=94.3</text>
<text class="mn" x="25" y="-3">77</text><text class="mn" x="265" y="-3">78</text><text class="mn" x="505" y="-3">79</text><text class="mn" x="745" y="-3">80</text>
<text class="big" x="747" y="15">2</text><text class="big" x="747" y="39">4</text>
<rect class="uG" x="25" y="-1.5" width="43" height="4"/><rect class="uR" x="25" y="10.5" width="43" height="4"/><rect class="uY" x="25" y="22.5" width="43" height="4"/>
<rect class="uS" x="445" y="46.5" width="193" height="4"/>
<use href="#sG" x="85"/><use href="#sG" x="100"/><use href="#sR" x="145"/><use href="#sG" x="185"/><use href="#sR" x="225"/><use href="#sRY" x="265"/><use href="#sR" x="305"/><use href="#sY" x="345"/><use href="#sB" x="385"/><use href="#sO" x="445"/>
<use href="#G" x="650"/><use href="#RBO" x="805"/>
<text class="s" x="265" y="61">152<tspan class="r" x="265" dy="9">39295</tspan></text>
<text class="s" x="505" y="61">136<tspan class="r" x="505" dy="9">39843</tspan><tspan class="od" x="505" dy="9">1 OD</tspan></text>
<text class="s" x="745" y="61">52<tspan class="gn" x="745" dy="9">53051</tspan> <tspan class="r">40051</tspan><tspan class="od" x="745" dy="9">2.225 OD</tspan></text>
<text class="s" x="865" y="61">75<tspan class="gn" x="865" dy="9">53351</tspan> <tspan class="r">40351</tspan></text>
</g>
<g id="row-81" transform="translate(0,2700)">
<use href="#g44"/><use href="#S16"/>
<text class="tp" x="145" y="-14">♩=95.8</text><text class="tp" x="385" y="-14">♩=95.2</text><text class="tp" x="625" y="-14">♩=97.9</text><text class="tp" x="745" y="-14">♩=90.8</text><text class="tp" x="865" y="-14">♩=95.1</text>
<text class="mn" x="25" y="-3">81</text><text class="mn" x="265" y="-3">82</text><text class="mn" x="505" y="-3">83</text><text class="mn" x="745" y="-3">84</text>
<text class="big" x="26" y="15">4</text><text class="big" x="26" y="39">4</text>
<rect class="uR" x="55" y="10.5" width="90" height="4"/><rect class="uY" x="55" y="22.5" width="90" height="4"/><rect class="uB" x="55" y="34.5" width="90" height="4"/>
<rect class="uR" x="535" y="10.5" width="90" height="4"/><rect class="uY" x="535" y="22.5" width="90" height="4"/><rect class="uB" x="535" y="34.5" width="90" height="4"/>
<rect class="uG" x="775" y="-1.5" width="43" height="4"/>
<use href="#RYB" x="55"/><use href="#GYB" x="205"/><use href="#R" x="295"/><use href="#Y" x="315"/><use href="#B" x="325"/><use href="#YO" x="345"/><use href="#RBO" x="445"/><use href="#RYB" x="535"/><use href="#GYB" x="685"/><use href="#G" x="775"/><use href="#R" x="835"/><use href="#Y" x="865"/><use href="#RBO" x="925"/>
<text class="s" x="265" y="61">204<tspan class="gn" x="265" dy="9">54167</tspan> <tspan class="r">41167</tspan></text>
<text class="s" x="505" y="61">200<tspan class="gn" x="505" dy="9">54967</tspan> <tspan class="r">41967</tspan></text>
<text class="s" x="745" y="61">204<tspan class="gn" x="745" dy="9">55783</tspan> <tspan class="r">42783</tspan></text>
<text class="s" x="985" y="61">158<tspan class="gn" x="985" dy="9">56419</tspan> <tspan class="r">43419</tspan></text>
</g>
<g id="row-85" transform="translate(0,2830)">
<use href="#g21"/>
<path class="tk" d="M26-38v9M88-38v9M148-38v9M207-38v9M265-38v9M328-38v9M388-38v9M448-38v9M505-38v9M568-38v9M628-38v9M688-38v9M745-38v9M805-38v9"/>
<text class="tp" x="145" y="-14">♩=96</text><text class="tp" x="805" y="-14">♩=187.1</text>
<text class="mn" x="25" y="-3">85</text><text class="mn" x="265" y="-3">86</text><text class="mn" x="505" y="-3">87</text><text class="mn" x="745" y="-3">88</text>
<text class="big" x="747" y="15">3</text><text class="big" x="747" y="39">4</text>
<rect class="uR" x="55" y="10.5" width="90" height="4"/><rect class="uY" x="55" y="22.5" width="90" height="4"/><rect class="uB" x="55" y="34.5" width="90" height="4"/>
<use href="#RYB" x="55"/><use href="#GYB" x="205"/><use href="#R" x="295"/><use href="#Y" x="315"/><use href="#B" x="325"/><use href="#YO" x="345"/><use href="#RY" x="385"/><use href="#Y" x="805"/><use href="#YBO" x="865"/>
<text class="s" x="265" y="61">204<tspan class="gn" x="265" dy="9">57235</tspan> <tspan class="r">44235</tspan></text>
<text class="s" x="505" y="61">175<tspan class="gn" x="505" dy="9">57935</tspan> <tspan class="r">44935</tspan></text>
<text class="s" x="745" y="61">0<tspan class="gn" x="745" dy="9">57935</tspan> <tspan class="r">44935</tspan></text>
<text class="s" x="925" y="61">100<tspan class="gn" x="925" dy="9">58335</tspan> <tspan class="r">45335</tspan></text>
</g>
<g id="row-89" transform="translate(0,2960)">
<rect class="ph" x="445" y="-5" width="300" height="58"/>
<use href="#g35"/><use href="#F8"/>
<text class="tp" x="85" y="-14">♩=191.5</text><text class="tp" x="265" y="-14">♩=191.8</text><text class="tp" x="445" y="-14">♩=196.8</text><text class="tp" x="625" y="-14">♩=192</text><text class="tp" x="805" y="-14">♩=194.6</text>
<text class="mn" x="25" y="-3">89</text><text class="mn" x="205" y="-3">90</text><text class="mn" x="385" y="-3">91</text><text class="mn" x="565" y="-3">92</text><text class="mn" x="745" y="-3">93</text>
<rect class="uY" x="265" y="22.5" width="150" height="4"/>
<rect class="uS" x="685" y="-1.5" width="91" height="4"/><rect class="uS" x="685" y="10.5" width="91" height="4"/><rect class="uS" x="685" y="34.5" width="91" height="4"/>
<use href="#YBO" x="25"/><use href="#G" x="85"/><use href="#RYB" x="145"/><use href="#RYB" x="205"/><use href="#Y" x="265"/><use href="#sR" x="445"/><use href="#sGRY" x="505"/><use href="#sGRY" x="565"/><use href="#sG" x="625"/><use href="#sGRB" x="685"/><use href="#Y" x="805"/><use href="#YBO" x="865"/>
<text class="s" x="205" y="61">175<tspan class="gn" x="205" dy="9">59035</tspan> <tspan class="r">46035</tspan></text>
<text class="s" x="385" y="61">124<tspan class="gn" x="385" dy="9">59531</tspan> <tspan class="r">46531</tspan></text>
<text class="s" x="565" y="61">106<tspan class="gn" x="565" dy="9">59955</tspan> <tspan class="r">46955</tspan></text>
<text class="s" x="745" y="61">211<tspan class="gn" x="745" dy="9">60799</tspan> <tspan class="r">47799</tspan><tspan class="od" x="745" dy="9">1 OD</tspan></text>
<text class="s" x="925" y="61">118<tspan class="gn" x="925" dy="9">61271</tspan> <tspan class="r">48271</tspan><tspan class="od" x="925" dy="9">0.5 OD</tspan></text>
</g>
<g id="row-94" transform="translate(0,3090)">
<use href="#g35"/><use href="#F7"/>
<text class="tp" x="265" y="-14">♩=195.3</text><text class="tp" x="625" y="-14">♩=184.9</text><text class="tp" x="805" y="-14">♩=189</text>
<text class="mn" x="25" y="-3">94</text><text class="mn" x="205" y="-3">95</text><text class="mn" x="385" y="-3">96</text><text class="mn" x="565" y="-3">97</text><text class="mn" x="745" y="-3">98</text>
<rect class="uY" x="265" y="22.5" width="150" height="4"/>
<rect class="uG" x="685" y="-1.5" width="73" height="4"/><rect class="uR" x="685" y="10.5" width="73" height="4"/><rect class="uB" x="685" y="34.5" width="73" height="4"/>
<use href="#YBO" x="25"/><use href="#G" x="85"/><use href="#RYB" x="145"/><use href="#RYB" x="205"/><use href="#Y" x="265"/><use href="#R" x="445"/><use href="#GRY" x="505"/><use href="#GRY" x="565"/><use href="#G" x="625"/><use href="#GRB" x="685"/>
<text class="s" x="205" y="61">175<tspan class="gn" x="205" dy="9">61971</tspan> <tspan class="r">48971</tspan></text>
<text class="s" x="385" y="61">124<tspan class="gn" x="385" dy="9">62467</tspan> <tspan class="r">49467</tspan></text>
<text class="s" x="565" y="61">106<tspan class="gn" x="565" dy="9">62891</tspan> <tspan class="r">49891</tspan></text>
<text class="s" x="745" y="61">208<tspan class="gn" x="745" dy="9">63735</tspan> <tspan class="r">50735</tspan></text>
<text class="s" x="925" y="61">9<tspan class="gn" x="925" dy="9">63771</tspan> <tspan class="r">50771</tspan></text>
</g>
<g id="row-99" transform="translate(0,3220)">
<use href="#g35"/><use href="#F8"/>
<text class="tp" x="625" y="-14">♩=191.5</text><text class="tp" x="805" y="-14">♩=193.2</text>
<text class="mn" x="25" y="-3">99</text><text class="mn" x="205" y="-3">100</text><text class="mn" x="385" y="-3">101</text><text class="mn" x="565" y="-3">102</text><text class="mn" x="745" y="-3">103</text>
<use href="#Y" x="625"/><use href="#YBO" x="685"/><use href="#YBO" x="745"/><use href="#G" x="805"/><use href="#RYB" x="865"/>
<text class="s" x="205" y="61">0<tspan class="gn" x="205" dy="9">63771</tspan> <tspan class="r">50771</tspan></text>
<text class="s" x="385" y="61">0<tspan class="gn" x="385" dy="9">63771</tspan> <tspan class="r">50771</tspan></text>
<text class="s" x="565" y="61">0<tspan class="gn" x="565" dy="9">63771</tspan> <tspan class="r">50771</tspan></text>
<text class="s" x="745" y="61">100<tspan class="gn" x="745" dy="9">64171</tspan> <tspan class="r">51171</tspan></text>
<text class="s" x="925" y="61">175<tspan class="gn" x="925" dy="9">64871</tspan> <tspan class="r">51871</tspan></text>
</g>
<g id="row-104" transform="translate(0,3350)">
<use href="#g35"/><use href="#F7"/>
<text class="tp" x="85" y="-14">♩=191.2</text><text class="tp" x="265" y="-14">♩=186.6</text><text class="tp" x="445" y="-14">♩=195.2</text><text class="tp" x="625" y="-14">♩=193.6</text><text class="tp" x="805" y="-14">♩=192.7</text>
<text class="mn" x="25" y="-3">104</text><text class="mn" x="205" y="-3">105</text><text class="mn" x="385" y="-3">106</text><text class="mn" x="565" y="-3">107</text><text class="mn" x="745" y="-3">108</text>
<rect class="uY" x="85" y="22.5" width="150" height="4"/>
<rect class="uG" x="505" y="-1.5" width="73" height="4"/><rect class="uR" x="505" y="10.5" width="73" height="4"/><rect class="uB" x="505" y="34.5" width="73" height="4"/>
<use href="#RYB" x="25"/><use href="#Y" x="85"/><use href="#R" x="265"/><use href="#GRY" x="325"/><use href="#GRY" x="385"/><use href="#G" x="445"/><use href="#GRB" x="505"/>
<text class="s" x="205" y="61">124<tspan class="gn" x="205" dy="9">65367</tspan> <tspan class="r">52367</tspan></text>
<text class="s" x="385" y="61">106<tspan class="gn" x="385" dy="9">65791</tspan> <tspan class="r">52791</tspan></text>
<text class="s" x="565" y="61">208<tspan class="gn" x="565" dy="9">66635</tspan> <tspan class="r">53635</tspan></text>
<text class="s" x="745" y="61">9<tspan class="gn" x="745" dy="9">66671</tspan> <tspan class="r">53671</tspan></text>
<text class="s" x="925" y="61">0<tspan class="gn" x="925" dy="9">66671</tspan> <tspan class="r">53671</tspan></text>
</g>
<g id="row-109" transform="translate(0,3480)">
<use href="#g35"/><use href="#F8"/>
<text class="tp" x="85" y="-14">♩=193.5</text><text class="tp" x="265" y="-14">♩=200</text><text class="tp" x="445" y="-14">♩=188.3</text><text class="tp" x="625" y="-14">♩=190.4</text>
<text class="mn" x="25" y="-3">109</text><text class="mn" x="205" y="-3">110</text><text class="mn" x="385" y="-3">111</text><text class="mn" x="565" y="-3">112</text><text class="mn" x="745" y="-3">113</text>
<rect class="uY" x="805" y="22.5" width="120" height="4"/>
<use href="#Y" x="445"/><use href="#YBO" x="505"/><use href="#YBO" x="565"/><use href="#G" x="625"/><use href="#RYB" x="685"/><use href="#RYB" x="745"/><use href="#Y" x="805"/>
<text class="s" x="205" y="61">0<tspan class="gn" x="205" dy="9">66671</tspan> <tspan class="r">53671</tspan></text>
<text class="s" x="385" y="61">0<tspan class="gn" x="385" dy="9">66671</tspan> <tspan class="r">53671</tspan></text>
<text class="s" x="565" y="61">100<tspan class="gn" x="565" dy="9">67071</tspan> <tspan class="r">54071</tspan></text>
<text class="s" x="745" y="61">175<tspan class="gn" x="745" dy="9">67771</tspan> <tspan class="r">54771</tspan></text>
<text class="s" x="925" y="61">123<tspan class="gn" x="925" dy="9">68267</tspan> <tspan class="r">55267</tspan></text>
</g>
<g id="row-114" transform="translate(0,3610)">
<rect class="ph" x="445" y="-5" width="360" height="58"/>
<use href="#g35"/><use href="#F7"/>
<text class="tp" x="265" y="-14">♩=189</text><text class="tp" x="445" y="-14">♩=185.2</text><text class="tp" x="625" y="-14">♩=187.4</text><text class="tp" x="805" y="-14">♩=186.4</text>
<text class="mn" x="25" y="-3">114</text><text class="mn" x="205" y="-3">115</text><text class="mn" x="385" y="-3">116</text><text class="mn" x="565" y="-3">117</text><text class="mn" x="745" y="-3">118</text>
<rect class="uY" x="25" y="22.5" width="28" height="4"/>
<rect class="uG" x="325" y="-1.5" width="73" height="4"/><rect class="uR" x="325" y="10.5" width="73" height="4"/><rect class="uB" x="325" y="34.5" width="73" height="4"/>
<rect class="uY" x="805" y="22.5" width="120" height="4"/>
<use href="#R" x="85"/><use href="#GRY" x="145"/><use href="#GRY" x="205"/><use href="#G" x="265"/><use href="#GRB" x="325"/>
<use href="#sY" x="445"/><use href="#sYBO" x="505"/><use href="#sYBO" x="565"/><use href="#sG" x="625"/><use href="#sRYB" x="685"/><use href="#sRYB" x="745"/><use href="#Y" x="805"/>
<text class="s" x="205" y="61">106<tspan class="gn" x="205" dy="9">68691</tspan> <tspan class="r">55691</tspan></text>
<text class="s" x="385" y="61">208<tspan class="gn" x="385" dy="9">69535</tspan> <tspan class="r">56535</tspan></text>
<text class="s" x="565" y="61">109<tspan class="gn" x="565" dy="9">69971</tspan> <tspan class="r">56971</tspan></text>
<text class="s" x="745" y="61">175<tspan class="gn" x="745" dy="9">70671</tspan> <tspan class="r">57671</tspan></text>
<text class="s" x="925" y="61">123<tspan class="gn" x="925" dy="9">71163</tspan> <tspan class="r">58163</tspan></text>
</g>
<g id="row-119" transform="translate(0,3740)">
<use href="#g35"/><use href="#F8"/>
<text class="tp" x="85" y="-14">♩=196.9</text><text class="tp" x="265" y="-14">♩=192.4</text><text class="tp" x="445" y="-14">♩=194.5</text><text class="tp" x="625" y="-14">♩=193.2</text><text class="tp" x="805" y="-14">♩=190.6</text>
<text class="mn" x="25" y="-3">119</text><text class="mn" x="205" y="-3">120</text><text class="mn" x="385" y="-3">121</text><text class="mn" x="565" y="-3">122</text><text class="mn" x="745" y="-3">123</text>
<rect class="uY" x="25" y="22.5" width="30" height="4"/>
<rect class="uG" x="325" y="-1.5" width="73" height="4"/><rect class="uR" x="325" y="10.5" width="73" height="4"/><rect class="uB" x="325" y="34.5" width="73" height="4"/>
<rect class="uY" x="805" y="22.5" width="120" height="4"/>
<use href="#R" x="85"/><use href="#GRY" x="145"/><use href="#GRY" x="205"/><use href="#G" x="265"/><use href="#GRB" x="325"/><use href="#Y" x="445"/><use href="#YBO" x="505"/><use href="#YBO" x="565"/><use href="#G" x="625"/><use href="#RYB" x="685"/><use href="#RYB" x="745"/><use href="#Y" x="805"/>
<text class="s" x="205" y="61">107<tspan class="gn" x="205" dy="9">71591</tspan> <tspan class="r">58591</tspan></text>
<text class="s" x="385" y="61">208<tspan class="gn" x="385" dy="9">72435</tspan> <tspan class="r">59435</tspan></text>
<text class="s" x="565" y="61">109<tspan class="gn" x="565" dy="9">72871</tspan> <tspan class="r">59871</tspan></text>
<text class="s" x="745" y="61">175<tspan class="gn" x="745" dy="9">73571</tspan> <tspan class="r">60571</tspan></text>
<text class="s" x="925" y="61">124<tspan class="gn" x="925" dy="9">74067</tspan> <tspan class="r">61067</tspan></text>
</g>
<g id="row-124" transform="translate(0,3870)">
<use href="#g35"/><use href="#F7"/>
<text class="tp" x="85" y="-14">♩=194.3</text><text class="tp" x="265" y="-14">♩=194.2</text><text class="tp" x="445" y="-14">♩=190.5</text><text class="tp" x="805" y="-14">♩=188.7</text>
<text class="mn" x="25" y="-3">124</text><text class="mn" x="205" y="-3">125</text><text class="mn" x="385" y="-3">126</text><text class="mn" x="565" y="-3">127</text><text class="mn" x="745" y="-3">128</text>
<rect class="uY" x="25" y="22.5" width="30" height="4"/>
<rect class="uG" x="325" y="-1.5" width="58" height="4"/><rect class="uR" x="325" y="10.5" width="58" height="4"/><rect class="uB" x="325" y="34.5" width="58" height="4"/>
<rect class="uY" x="805" y="22.5" width="120" height="4"/>
<use href="#R" x="85"/><use href="#GRY" x="145"/><use href="#GRY" x="205"/><use href="#G" x="265"/><use href="#GRB" x="325"/><use href="#Y" x="445"/><use href="#YBO" x="505"/><use href="#YBO" x="565"/><use href="#G" x="625"/><use href="#RYB" x="685"/><use href="#RYB" x="745"/><use href="#Y" x="805"/>
<text class="s" x="205" y="61">106<tspan class="gn" x="205" dy="9">74491</tspan> <tspan class="r">61491</tspan></text>
<text class="s" x="385" y="61">208<tspan class="gn" x="385" dy="9">75335</tspan> <tspan class="r">62335</tspan></text>
<text class="s" x="565" y="61">100<tspan class="gn" x="565" dy="9">75735</tspan> <tspan class="r">62735</tspan></text>
<text class="s" x="745" y="61">175<tspan class="gn" x="745" dy="9">76435</tspan> <tspan class="r">63435</tspan></text>
<text class="s" x="925" y="61">124<tspan class="gn" x="925" dy="9">76931</tspan> <tspan class="r">63931</tspan></text>
</g>
<g id="row-129" transform="translate(0,4000)">
<use href="#g35"/><use href="#F8"/>
<text class="tp" x="265" y="-14">♩=190.4</text><text class="tp" x="625" y="-14">♩=192.2</text>
<text class="mn" x="25" y="-3">129</text><text class="mn" x="205" y="-3">130</text><text class="mn" x="385" y="-3">131</text><text class="mn" x="565" y="-3">132</text><text class="mn" x="745" y="-3">133</text>
<rect class="uY" x="25" y="22.5" width="30" height="4"/>
<rect class="uG" x="325" y="-1.5" width="73" height="4"/><rect class="uR" x="325" y="10.5" width="73" height="4"/><rect class="uB" x="325" y="34.5" width="73" height="4"/>
<use href="#R" x="85"/><use href="#GRY" x="145"/><use href="#GRY" x="205"/><use href="#G" x="265"/><use href="#GRB" x="325"/>
<text class="s" x="205" y="61">106<tspan class="gn" x="205" dy="9">77355</tspan> <tspan class="r">64355</tspan></text>
<text class="s" x="385" y="61">208<tspan class="gn" x="385" dy="9">78199</tspan> <tspan class="r">65199</tspan></text>
<text class="s" x="565" y="61">9<tspan class="gn" x="565" dy="9">78235</tspan> <tspan class="r">65235</tspan></text>
<text class="s" x="745" y="61">0<tspan class="gn" x="745" dy="9">78235</tspan> <tspan class="r">65235</tspan></text>
<text class="s" x="925" y="61">0<tspan class="gn" x="925" dy="9">78235</tspan> <tspan class="r">65235</tspan></text>
</g>
<g id="row-134" transform="translate(0,4130)">
<use href="#g35"/><use href="#F7"/>
<text class="tp" x="265" y="-14">♩=193.1</text><text class="tp" x="805" y="-14">♩=191.9</text>
<text class="mn" x="25" y="-3">134</text><text class="mn" x="205" y="-3">135</text><text class="mn" x="385" y="-3">136</text><text class="mn" x="565" y="-3">137</text><text class="mn" x="745" y="-3">138</text>
<text class="s" x="205" y="61">0<tspan class="gn" x="205" dy="9">78235</tspan> <tspan class="r">65235</tspan></text>
<text class="s" x="385" y="61">0<tspan class="gn" x="385" dy="9">78235</tspan> <tspan class="r">65235</tspan></text>
<text class="s" x="565" y="61">0<tspan class="gn" x="565" dy="9">78235</tspan> <tspan class="r">65235</tspan></text>
<text class="s" x="745" y="61">0<tspan class="gn" x="745" dy="9">78235</tspan> <tspan class="r">65235</tspan></text>
<text class="s" x="925" y="61">0<tspan class="gn" x="925" dy="9">78235</tspan> <tspan class="r">65235</tspan></text>
</g>
<g id="row-139" transform="translate(0,4260)">
<use href="#g35"/><use href="#F8"/>
<text class="tp" x="445" y="-14">♩=189.2</text><text class="tp" x="625" y="-14">♩=185.3</text>
<text class="mn" x="25" y="-3">139</text><text class="mn" x="205" y="-3">140</text><text class="mn" x="385" y="-3">141</text><text class="mn" x="565" y="-3">142</text><text class="mn" x="745" y="-3">143</text>
<text class="s" x="205" y="61">0<tspan class="gn" x="205" dy="9">78235</tspan> <tspan class="r">65235</tspan></text>
<text class="s" x="385" y="61">0<tspan class="gn" x="385" dy="9">78235</tspan> <tspan class="r">65235</tspan></text>
<text class="s" x="565" y="61">0<tspan class="gn" x="565" dy="9">78235</tspan> <tspan class="r">65235</tspan></text>
<text class="s" x="745" y="61">0<tspan class="gn" x="745" dy="9">78235</tspan> <tspan class="r">65235</tspan></text>
<text class="s" x="925" y="61">0<tspan class="gn" x="925" dy="9">78235</tspan> <tspan class="r">65235</tspan></text>
</g>
<g id="row-144" transform="translate(0,4390)">
<use href="#g35"/><use href="#F7"/>
<text class="tp" x="85" y="-14">♩=186.9</text><text class="tp" x="445" y="-14">♩=182</text>
<text class="mn" x="25" y="-3">144</text><text class="mn" x="205" y="-3">145</text><text class="mn" x="385" y="-3">146</text><text class="mn" x="565" y="-3">147</text><text class="mn" x="745" y="-3">148</text>
<text class="s" x="205" y="61">0<tspan class="gn" x="205" dy="9">78235</tspan> <tspan class="r">65235</tspan></text>
<text class="s" x="385" y="61">0<tspan class="gn" x="385" dy="9">78235</tspan> <tspan class="r">65235</tspan></text>
<text class="s" x="565" y="61">0<tspan class="gn" x="565" dy="9">78235</tspan> <tspan class="r">65235</tspan></text>
<text class="s" x="745" y="61">0<tspan class="gn" x="745" dy="9">78235</tspan> <tspan class="r">65235</tspan></text>
<text class="s" x="925" y="61">0<tspan class="gn" x="925" dy="9">78235</tspan> <tspan class="r">65235</tspan></text>
</g>
<g id="row-149" transform="translate(0,4520)">
<use href="#g34"/>
<path class="tk" d="M27-38v9M145-38v9M267-38v9M387-38v9M508-38v9M625-38v9"/>
<text class="mn" x="25" y="-3">149</text><text class="mn" x="205" y="-3">150</text><text class="mn" x="385" y="-3">151</text><text class="mn" x="565" y="-3">152</text>
<text class="s" x="205" y="61">0<tspan class="gn" x="205" dy="9">78235</tspan> <tspan class="r">65235</tspan></text>
<text class="s" x="385" y="61">0<tspan class="gn" x="385" dy="9">78235</tspan> <tspan class="r">65235</tspan></text>
<text class="s" x="565" y="61">0<tspan class="gn" x="565" dy="9">78235</tspan> <tspan class="r">65235</tspan></text>
<text class="s" x="745" y="61">0<tspan class="gn" x="745" dy="9">78235</tspan> <tspan class="r">65235</tspan></text>
</g>
<g id="footer" style="font-size:11.5px">
<text x="0" y="4649" fill="#999" style="font-size:11.5px">http://charts.ajanata.com/rb/</text>
<text x="0" y="4662" fill="#f00" style="font-size:11.5px">WARNING: Work in progress. This information has NOT BEEN VERIFIED and MAY BE INCORRECT.</text>
<text x="1006" y="4649" fill="#999" text-anchor="end" style="font-size:11.5px">Generated at Fri, 26 Aug 2011 10:00:40 -0400.</text>
<text x="1006" y="4662" fill="#999" text-anchor="end" style="font-size:11.5px">Generated by ajanata's Chart Generator, r299.</text>
</g>
</svg>
